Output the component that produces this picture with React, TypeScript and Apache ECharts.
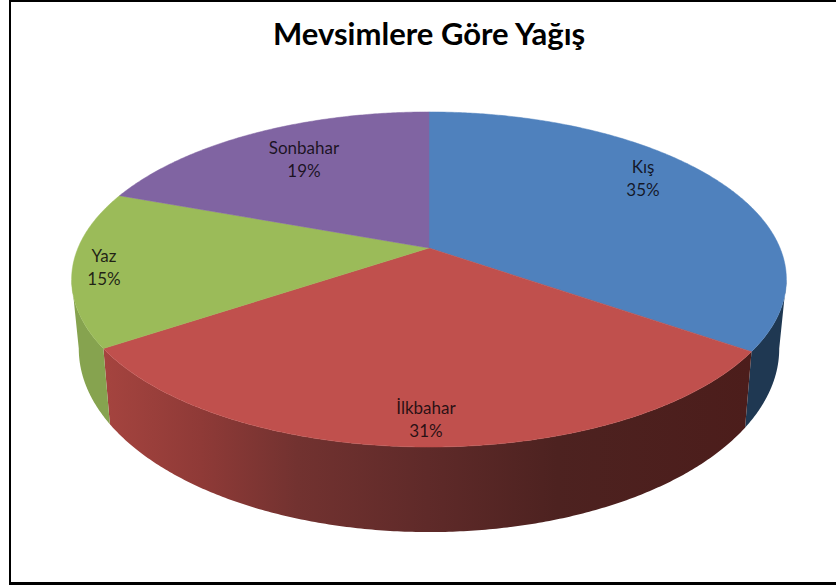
import React, { useEffect, useRef } from "react";
import * as echarts from "echarts";

const titleText = "Mevsimlere Göre Yağış";
const seasons = ["Kış", "İlkbahar", "Yaz", "Sonbahar"];
const rainShare = [34.7, 30.9, 15, 19.4];
const faceColors = ["#4F81BD", "#C0504D", "#9BBB59", "#8064A2"];
const labelAnchors = [[643, 178], [426, 419], [104, 267], [304, 159]];

const CX = 429;
const APEX_Y = 248;
const K = -0.188;
const A = 115;
const S = 351;
const VISIBLE_FROM = 100.8;
const VISIBLE_TO = 259.2;

const rad = (d: number) => (d * Math.PI) / 180;
function top(deg: number): number[] {
  const x = Math.sin(rad(deg));
  const y = -Math.cos(rad(deg));
  const den = 1 + K * y;
  return [CX + (S * x) / den, (A * y + APEX_Y) / den];
}
function bottom(deg: number): number[] {
  const p = top(deg);
  return [CX + 0.98 * (p[0] - CX), 428 + 1.095 * (p[1] - 352)];
}
function arc(a: number, b: number, f: (d: number) => number[]) {
  const n = Math.max(2, Math.ceil(Math.abs(b - a) * 2));
  const pts: number[][] = [];
  for (let i = 0; i <= n; i++) pts.push(f(a + ((b - a) * i) / n));
  return pts;
}
function sideFill(i: number): any {
  if (i === 0) return "#1F3852";
  if (i === 2) return "#86A34F";
  return new echarts.graphic.LinearGradient(0, 0, 1, 0, [
    { offset: 0, color: "#A5443F" },
    { offset: 0.15, color: "#8F3A37" },
    { offset: 0.3, color: "#723230" },
    { offset: 0.5, color: "#5F2A29" },
    { offset: 0.7, color: "#4D2220" },
    { offset: 1, color: "#4C1D1B" },
  ]);
}

export default function App() {
  const ref = useRef<HTMLDivElement>(null);
  useEffect(() => {
    document.body.style.margin = "0";
    const chart = echarts.init(ref.current!, null, { renderer: "svg" });
    const total = rainShare.reduce((a, b) => a + b, 0);
    const starts: number[] = [];
    rainShare.reduce((acc, v, i) => {
      starts[i] = (acc / total) * 360;
      return acc + v;
    }, 0);
    const renderItem = (params: any, api: any) => {
      const i = params.dataIndex;
      const a0 = starts[i];
      const a1 = a0 + (api.value(0) / total) * 360;
      const children: any[] = [];
      const s0 = Math.max(a0, VISIBLE_FROM);
      const s1 = Math.min(a1, VISIBLE_TO);
      if (s1 > s0) {
        children.push({
          type: "polygon",
          shape: { points: [...arc(s0, s1, top), ...arc(s1, s0, bottom)] },
          style: { fill: sideFill(i), stroke: "none" },
        });
      }
      children.push({
        type: "polygon",
        shape: { points: [[CX, APEX_Y], ...arc(a0, a1, top)] },
        style: { fill: faceColors[i], stroke: faceColors[i], lineWidth: 0.5 },
      });
      const [lx, ly] = labelAnchors[i];
      children.push({
        type: "text",
        z2: 10,
        style: {
          x: lx,
          y: ly,
          text: `${seasons[i]}\n${Math.round((api.value(0) / total) * 100)}%`,
          fill: "rgba(10,5,10,0.85)",
          font: '17px Lato, "Noto Sans", sans-serif',
          lineHeight: 23,
          align: "center",
          verticalAlign: "middle",
        },
      });
      return { type: "group", children };
    };
    const black = { fill: "#000" };
    chart.setOption({
      animation: false,
      backgroundColor: "#ffffff",
      title: {
        text: titleText,
        left: 268,
        top: 12,
        textStyle: { fontFamily: "Lato, sans-serif", fontWeight: "bold", fontSize: 31, color: "#000" },
      },
      graphic: [
        { type: "rect", shape: { x: 9, y: 0, width: 827, height: 2 }, style: black, silent: true },
        { type: "rect", shape: { x: 9, y: 0, width: 2, height: 585 }, style: black, silent: true },
        { type: "rect", shape: { x: 9, y: 582, width: 827, height: 3 }, style: black, silent: true },
      ],
      series: [
        {
          type: "custom",
          coordinateSystem: "none",
          renderItem,
          data: rainShare.map((v) => [v]),
          silent: true,
        },
      ],
    });
    return () => chart.dispose();
  }, []);
  return <div ref={ref} style={{ width: 836, height: 585 }} />;
}
